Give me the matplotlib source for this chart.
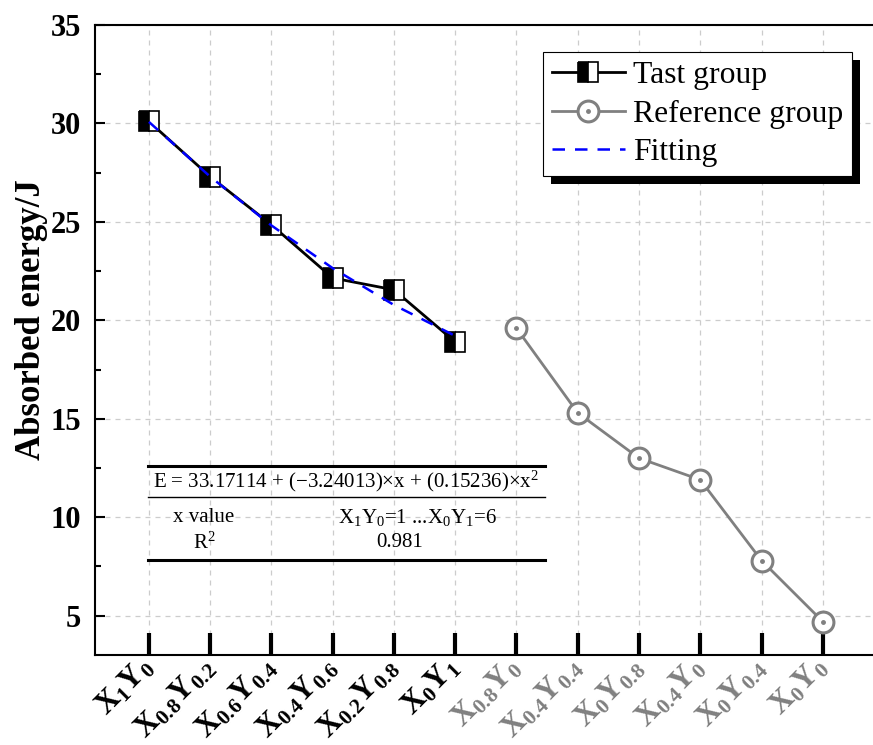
import numpy as np
import matplotlib
matplotlib.use('Agg')
import matplotlib.pyplot as plt
import matplotlib.transforms as mtransforms
from matplotlib.patches import Rectangle

plt.rcParams['font.family'] = 'Liberation Serif'
plt.rcParams['mathtext.fontset'] = 'custom'
plt.rcParams['mathtext.rm'] = 'Liberation Serif'
plt.rcParams['mathtext.it'] = 'Liberation Serif:italic'
plt.rcParams['mathtext.bf'] = 'Liberation Serif:bold'

# data
tast_x = [1, 2, 3, 4, 5, 6]
tast_y = [30.1, 27.3, 24.85, 22.15, 21.55, 18.9]
fit_y = [30.08, 27.30, 24.82, 22.65, 20.78, 19.21]
ref_x = [7, 8, 9, 10, 11, 12]
ref_y = [19.6, 15.3, 13.0, 11.9, 7.8, 4.7]
tick_labels = [r'$\mathbf{X_1Y_0}$', r'$\mathbf{X_{0.8}Y_{0.2}}$', r'$\mathbf{X_{0.6}Y_{0.4}}$',
               r'$\mathbf{X_{0.4}Y_{0.6}}$', r'$\mathbf{X_{0.2}Y_{0.8}}$', r'$\mathbf{X_0Y_1}$',
               r'$\mathbf{X_{0.8}Y_0}$', r'$\mathbf{X_{0.4}Y_{0.4}}$', r'$\mathbf{X_0Y_{0.8}}$',
               r'$\mathbf{X_{0.4}Y_0}$', r'$\mathbf{X_0Y_{0.4}}$', r'$\mathbf{X_0Y_0}$']
gray = '#808080'

fig = plt.figure(figsize=(8.73, 7.45), dpi=100)
ax = fig.add_axes([0.1088, 0.1208, 0.8912, 0.8456])

l1, = ax.plot(tast_x, tast_y, 'k-', lw=2.0, marker='s', ms=15, mfc='k', mfcalt='w',
              fillstyle='left', mec='k', mew=1.2, label='Tast group', zorder=3)
l2, = ax.plot(ref_x, ref_y, '-', color=gray, lw=2.0, marker='o', ms=15, mfc='w',
              mec=gray, mew=2.2, zorder=3)
l2d, = ax.plot(ref_x, ref_y, ls='none', marker='o', ms=2.5, color=gray, zorder=4)
l3, = ax.plot(tast_x, fit_y, '--', color='#0000ff', lw=1.8, dashes=(5, 4), zorder=5)

ax.set_xlim(0.12, 12.82)
ax.set_ylim(3, 35)
ax.set_yticks(np.arange(5, 36, 5))
ax.set_yticks(np.arange(5, 35, 2.5), minor=True)
ax.set_xticks(np.arange(1, 13))
ax.set_xticklabels(tick_labels, rotation=45, ha='right', va='center',
                   rotation_mode='anchor', fontsize=22)
shift = mtransforms.ScaledTranslation(8 / 100, 0, fig.dpi_scale_trans)
for i, t in enumerate(ax.get_xticklabels()):
    t.set_transform(t.get_transform() + shift)
    if i >= 6:
        t.set_color(gray)
for t in ax.get_yticklabels():
    t.set_fontweight('bold')
    t.set_fontsize(22)

ax.tick_params(axis='x', direction='in', length=16, width=3, pad=6)
ax.tick_params(axis='y', which='major', direction='in', length=7, width=1.5, pad=10)
ax.tick_params(axis='y', which='minor', direction='in', length=4.5, width=1.5)
ax.spines['right'].set_visible(False)
for s in ['left', 'bottom', 'top']:
    ax.spines[s].set_linewidth(1.5)
ax.grid(True, ls=(0, (4, 4)), color='#cccccc', lw=0.9)
ax.set_axisbelow(True)

ax.set_ylabel('Absorbed energy/J', fontsize=25, fontweight='bold')
ax.yaxis.set_label_coords(-0.060, 0.532)

# fit table
tx0, tx1 = 0.068, 0.578
ax.plot([tx0, tx1], [0.300, 0.300], 'k-', lw=2.2, transform=ax.transAxes, clip_on=False)
ax.plot([tx0, tx1], [0.251, 0.251], 'k-', lw=1.0, transform=ax.transAxes, clip_on=False)
ax.plot([tx0, tx1], [0.151, 0.151], 'k-', lw=2.2, transform=ax.transAxes, clip_on=False)
ax.text(0.3226, 0.275, 'E = 33.17114 + (\u22123.24013)\u00d7x + (0.15236)\u00d7x$^2$',
        transform=ax.transAxes, ha='center', va='center', fontsize=15)
ax.text(0.14, 0.219, 'x value', transform=ax.transAxes, ha='center', va='center', fontsize=15)
ax.text(0.415, 0.219, 'X$_1$Y$_0$=1 ...X$_0$Y$_1$=6', transform=ax.transAxes,
        ha='center', va='center', fontsize=15)
ax.text(0.14, 0.178, 'R$^2$', transform=ax.transAxes, ha='center', va='center', fontsize=15)
ax.text(0.392, 0.178, '0.981', transform=ax.transAxes, ha='center', va='center', fontsize=15)

leg = ax.legend([l1, (l2, l2d), l3], ['Tast group', 'Reference group', 'Fitting'],
                loc='upper left', bbox_to_anchor=(0.576, 0.957), fontsize=22.8,
                frameon=True, fancybox=False, edgecolor='k', framealpha=1,
                handlelength=2.3, handletextpad=0.25, labelspacing=0.3,
                borderpad=0.28, borderaxespad=0)
leg.get_frame().set_linewidth(0.8)
leg.set_zorder(10)

fig.canvas.draw()
bb = leg.get_window_extent().transformed(fig.transFigure.inverted())
off_x, off_y = 8 / 873, 8 / 745
ax.add_artist(Rectangle((bb.x0 + off_x, bb.y0 - off_y), bb.width, bb.height,
                        transform=fig.transFigure, facecolor='k', edgecolor='none',
                        zorder=9, clip_on=False))

fig.savefig('out.png', dpi=100)
